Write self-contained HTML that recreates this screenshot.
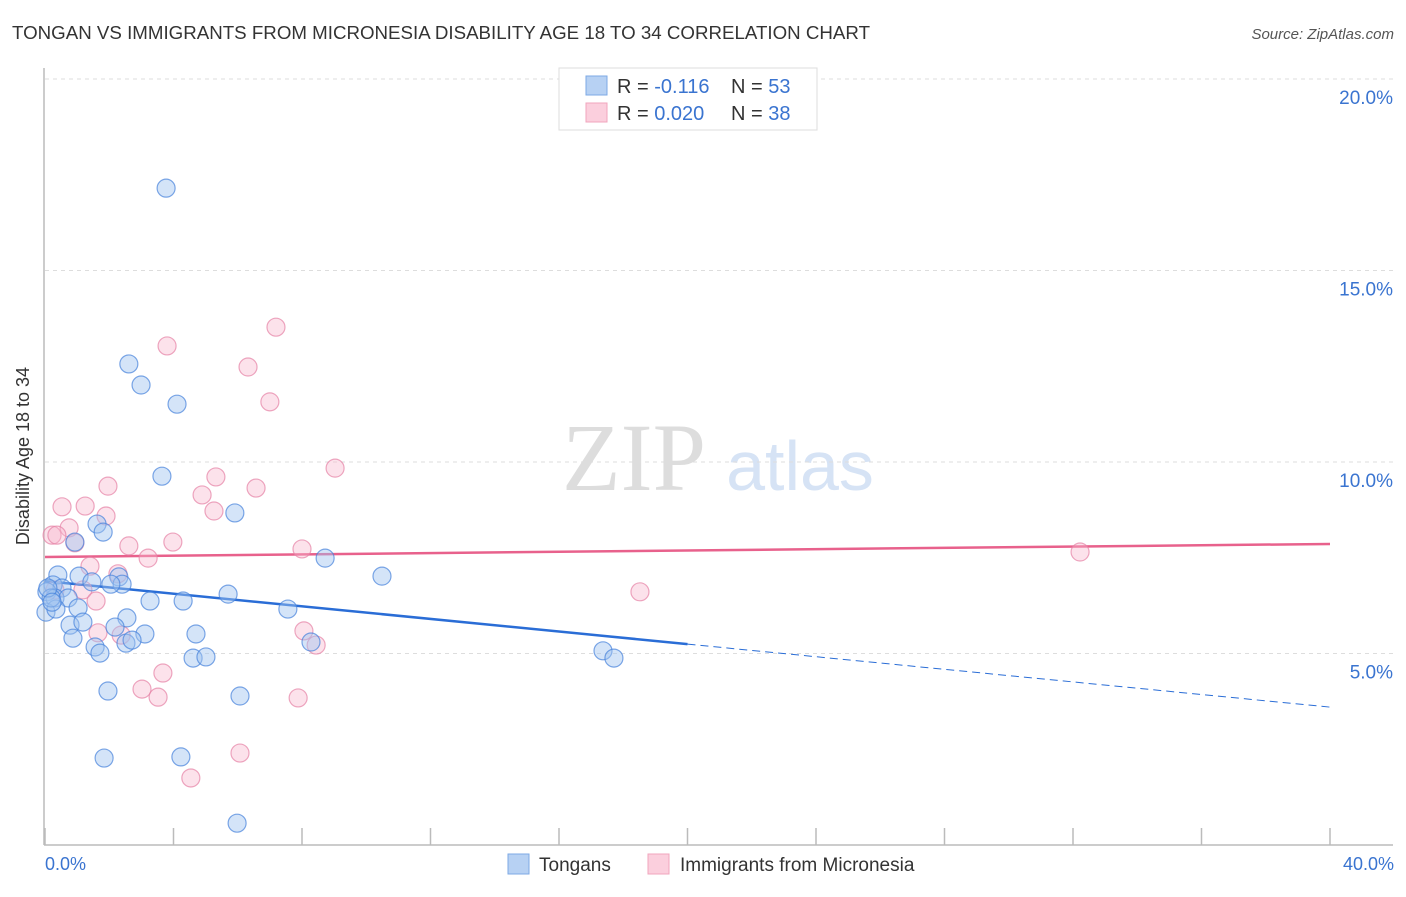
<!DOCTYPE html>
<html><head><meta charset="utf-8"><style>
body{margin:0;background:#fff;font-family:"Liberation Sans",sans-serif;}
svg text{font-family:"Liberation Sans",sans-serif;}
</style></head><body>
<svg id="chart" width="1406" height="892" viewBox="0 0 1406 892">
<text x="12" y="39" font-size="18" fill="#333" textLength="858" lengthAdjust="spacingAndGlyphs">TONGAN VS IMMIGRANTS FROM MICRONESIA DISABILITY AGE 18 TO 34 CORRELATION CHART</text>
<text x="1394" y="39" font-size="15" fill="#555" font-style="italic" text-anchor="end">Source: ZipAtlas.com</text>
<text x="634" y="490" font-size="96" fill="#ddd" text-anchor="middle" style="font-family:'Liberation Serif',serif">ZIP</text>
<text x="800" y="490" font-size="70" fill="#d6e3f5" text-anchor="middle">atlas</text>
<g id="grid"></g>
<line x1="44" y1="68" x2="44" y2="845" stroke="#bbb" stroke-width="1.5"/>
<line x1="44" y1="845" x2="1393" y2="845" stroke="#bbb" stroke-width="1.5"/>
<g id="ticks"></g>
<text x="29" y="456" font-size="18" fill="#333" text-anchor="middle" transform="rotate(-90 29 456)">Disability Age 18 to 34</text>
<text x="45" y="870" font-size="18" fill="#3a74d0">0.0%</text>
<text x="1394" y="870" font-size="18" fill="#3a74d0" text-anchor="end">40.0%</text>
<g id="trend"></g>
<g id="points"></g>
<g>
<rect x="559" y="68" width="258" height="62" fill="#fff" stroke="#ddd"/>
<rect x="586" y="76" width="21" height="19" fill="#b7d1f3" stroke="#7ea9e4"/>
<rect x="586" y="103" width="21" height="19" fill="#fbcfdd" stroke="#f0a5bd"/>
<text x="617" y="93" font-size="20" fill="#333">R = <tspan fill="#3a74d0">-0.116</tspan></text>
<text x="731" y="93" font-size="20" fill="#333">N = <tspan fill="#3a74d0">53</tspan></text>
<text x="617" y="120" font-size="20" fill="#333">R = <tspan fill="#3a74d0">0.020</tspan></text>
<text x="731" y="120" font-size="20" fill="#333">N = <tspan fill="#3a74d0">38</tspan></text>
</g>
<g>
<rect x="508" y="854" width="21" height="20" fill="#b7d1f3" stroke="#7ea9e4"/>
<text x="539" y="871" font-size="19" fill="#333">Tongans</text>
<rect x="648" y="854" width="21" height="20" fill="#fbcfdd" stroke="#f0a5bd"/>
<text x="680" y="871" font-size="19" fill="#333">Immigrants from Micronesia</text>
</g>
</svg>
<script>
const yTicks=[5,10,15,20];
const xTicks=[0,4,8,12,16,20,24,28,32,36,40];
const blueX=[3.77,2.61,2.99,4.11,3.64,5.91,1.62,1.81,0.93,8.72,10.49,0.40,1.06,1.46,2.30,2.40,2.05,0.25,0.53,0.06,0.31,0.72,3.27,4.30,5.70,7.56,0.03,0.34,1.03,2.55,0.78,1.18,2.18,3.11,4.70,0.87,1.56,1.71,2.52,2.71,8.28,4.61,5.01,17.37,17.71,1.96,6.07,1.84,4.23,5.98,0.19,0.09,0.22];
const blueY=[17.15,12.56,12.01,11.51,9.63,8.67,8.38,8.17,7.91,7.49,7.02,7.05,7.02,6.87,7.00,6.81,6.81,6.79,6.71,6.61,6.45,6.45,6.37,6.37,6.55,6.16,6.08,6.16,6.19,5.93,5.74,5.82,5.69,5.51,5.51,5.40,5.17,5.01,5.27,5.35,5.30,4.88,4.91,5.07,4.88,4.02,3.89,2.27,2.30,0.57,6.45,6.71,6.34];
const pinkX=[7.19,3.80,6.32,7.00,9.03,5.32,1.96,4.89,6.57,0.53,1.25,5.26,1.90,0.75,0.22,0.37,0.93,2.61,3.98,8.00,32.22,3.21,1.40,2.27,1.18,1.59,18.52,1.65,2.37,8.06,8.44,3.67,3.02,3.52,7.88,6.07,4.54,0.31];
const pinkY=[13.52,13.03,12.48,11.57,9.84,9.61,9.37,9.14,9.32,8.83,8.85,8.72,8.59,8.28,8.09,8.09,7.89,7.81,7.91,7.73,7.65,7.49,7.28,7.08,6.66,6.37,6.61,5.54,5.48,5.59,5.22,4.49,4.07,3.86,3.84,2.40,1.75,6.66];
const blueTrend=[6.89,3.60];
const pinkTrend=[7.52,7.86];
const blueSolidEnd=20;
const NS='http://www.w3.org/2000/svg';
const sx=v=>45+v/40*1285;
const sy=v=>845-v*38.3;
function mk(tag,attrs,parent){const e=document.createElementNS(NS,tag);for(const k in attrs)e.setAttribute(k,attrs[k]);document.getElementById(parent).appendChild(e);return e;}
yTicks.forEach(t=>{
 const l=mk('line',{x1:45,x2:1393,y1:sy(t),y2:sy(t),stroke:'#ddd','stroke-dasharray':'4,4'},'grid');
 
 
 const tx=mk('text',{x:1393,y:sy(t)+25,'font-size':19,fill:'#3a74d0','text-anchor':'end'},'grid');
 tx.textContent=t.toFixed(1)+'%';
 
 
});
xTicks.forEach(t=>{
 const l=mk('line',{x1:sx(t),x2:sx(t),y1:828,y2:845,stroke:'#bbb','stroke-width':1.5},'ticks');
 
 
});
function tr(a,x){return a[0]+(a[1]-a[0])*x/40;}
let t1=mk('line',{x1:sx(0),y1:sy(tr(blueTrend,0)),x2:sx(blueSolidEnd),y2:sy(tr(blueTrend,blueSolidEnd)),stroke:'#2a6dd6','stroke-width':2.5},'trend');


let t2=mk('line',{x1:sx(blueSolidEnd),y1:sy(tr(blueTrend,blueSolidEnd)),x2:sx(40),y2:sy(tr(blueTrend,40)),stroke:'#2a6dd6','stroke-width':1,'stroke-dasharray':'8,5'},'trend');


let t3=mk('line',{x1:sx(0),y1:sy(tr(pinkTrend,0)),x2:sx(40),y2:sy(tr(pinkTrend,40)),stroke:'#e8618c','stroke-width':2.5},'trend');


pinkX.forEach((x,i)=>{
 const c=mk('circle',{cx:sx(x),cy:sy(pinkY[i]),r:9,fill:'rgba(248,183,205,0.4)',stroke:'rgba(230,130,165,0.7)','stroke-width':1.2},'points');
 
 
});
blueX.forEach((x,i)=>{
 const c=mk('circle',{cx:sx(x),cy:sy(blueY[i]),r:9,fill:'rgba(160,196,240,0.45)',stroke:'rgba(70,130,220,0.7)','stroke-width':1.2},'points');
 
 
});
</script>
</body></html>
